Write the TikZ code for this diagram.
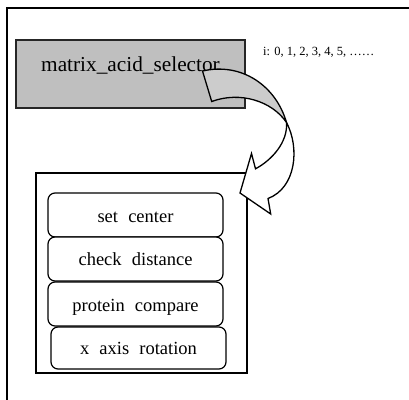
\documentclass[tikz,border=0pt]{standalone}
\usepackage{fontspec}
\setmainfont{Liberation Serif}
\begin{document}
\begin{tikzpicture}[x=1pt,y=-1pt,
  frameline/.style={line width=2pt,black},
  selbox/.style={draw=black!85,line width=1.3pt,fill=black!25},
  stepbox/.style={draw=black,line width=1.2pt,rounded corners=7pt,fill=white},
  steptext/.style={font=\fontsize{18.5}{21}\selectfont,anchor=base},
  twist/.style={draw=black,line width=1.3pt,line join=miter}]
\useasboundingbox (0,0) rectangle (409,399);

% open outer frame
\coordinate (fb) at (7,400);
\coordinate (fc) at (7,8);
\coordinate (fr) at (410,8);
\draw[frameline] (fb) -- (fc) -- (fr);

% selector box and its label
\draw[selbox] (16,40) rectangle (245,108);
\node[font=\fontsize{21.3}{24}\selectfont,anchor=base] (sel) at (130.5,71) {matrix\_acid\_selector};
\node[font=\fontsize{12.5}{14}\selectfont,anchor=base west,inner sep=0pt] (idx) at (263,55) {i: 0, 1, 2, 3, 4, 5, ……};

% inner container with the four steps
\draw[line width=1.3pt] (36,173) rectangle (247,373);
\draw[stepbox] (48,193) rectangle (223,237);
\draw[stepbox] (48,237) rectangle (223,281);
\draw[stepbox] (48,282) rectangle (223,326);
\draw[stepbox] (51,327) rectangle (226,369);
\node[steptext] (s1) at (135.5,222) {set\hspace{0.55em}center};
\node[steptext] (s2) at (135.5,265) {check\hspace{0.55em}distance};
\node[steptext] (s3) at (135.5,311) {protein\hspace{0.55em}compare};
\node[steptext] (s4) at (138.5,354) {x\hspace{0.55em}axis\hspace{0.55em}rotation};

% twisted curved block arrow: grey back face, then white front face with head
\coordinate (tt) at (202.5,71);
\coordinate (tb) at (211.7,101.5);
\coordinate (cx) at (286.5,122.5);
\coordinate (ob) at (268,198.5);
\coordinate (b1) at (270.7,214);
\coordinate (tip) at (240,193);
\coordinate (b2) at (251.5,153.5);
\coordinate (ib) at (255.5,168.8);
\filldraw[twist,fill=black!20] (tt) .. controls (242,62) and (276,86) .. (cx)
  .. controls (272,101) and (240,91) .. (tb) -- cycle;
\filldraw[twist,fill=white] (cx) .. controls (300,148) and (296,188) .. (ob)
  -- (b1) -- (tip) -- (b2) -- (ib)
  .. controls (272,160) and (288,142) .. (cx) -- cycle;
\end{tikzpicture}
\end{document}
